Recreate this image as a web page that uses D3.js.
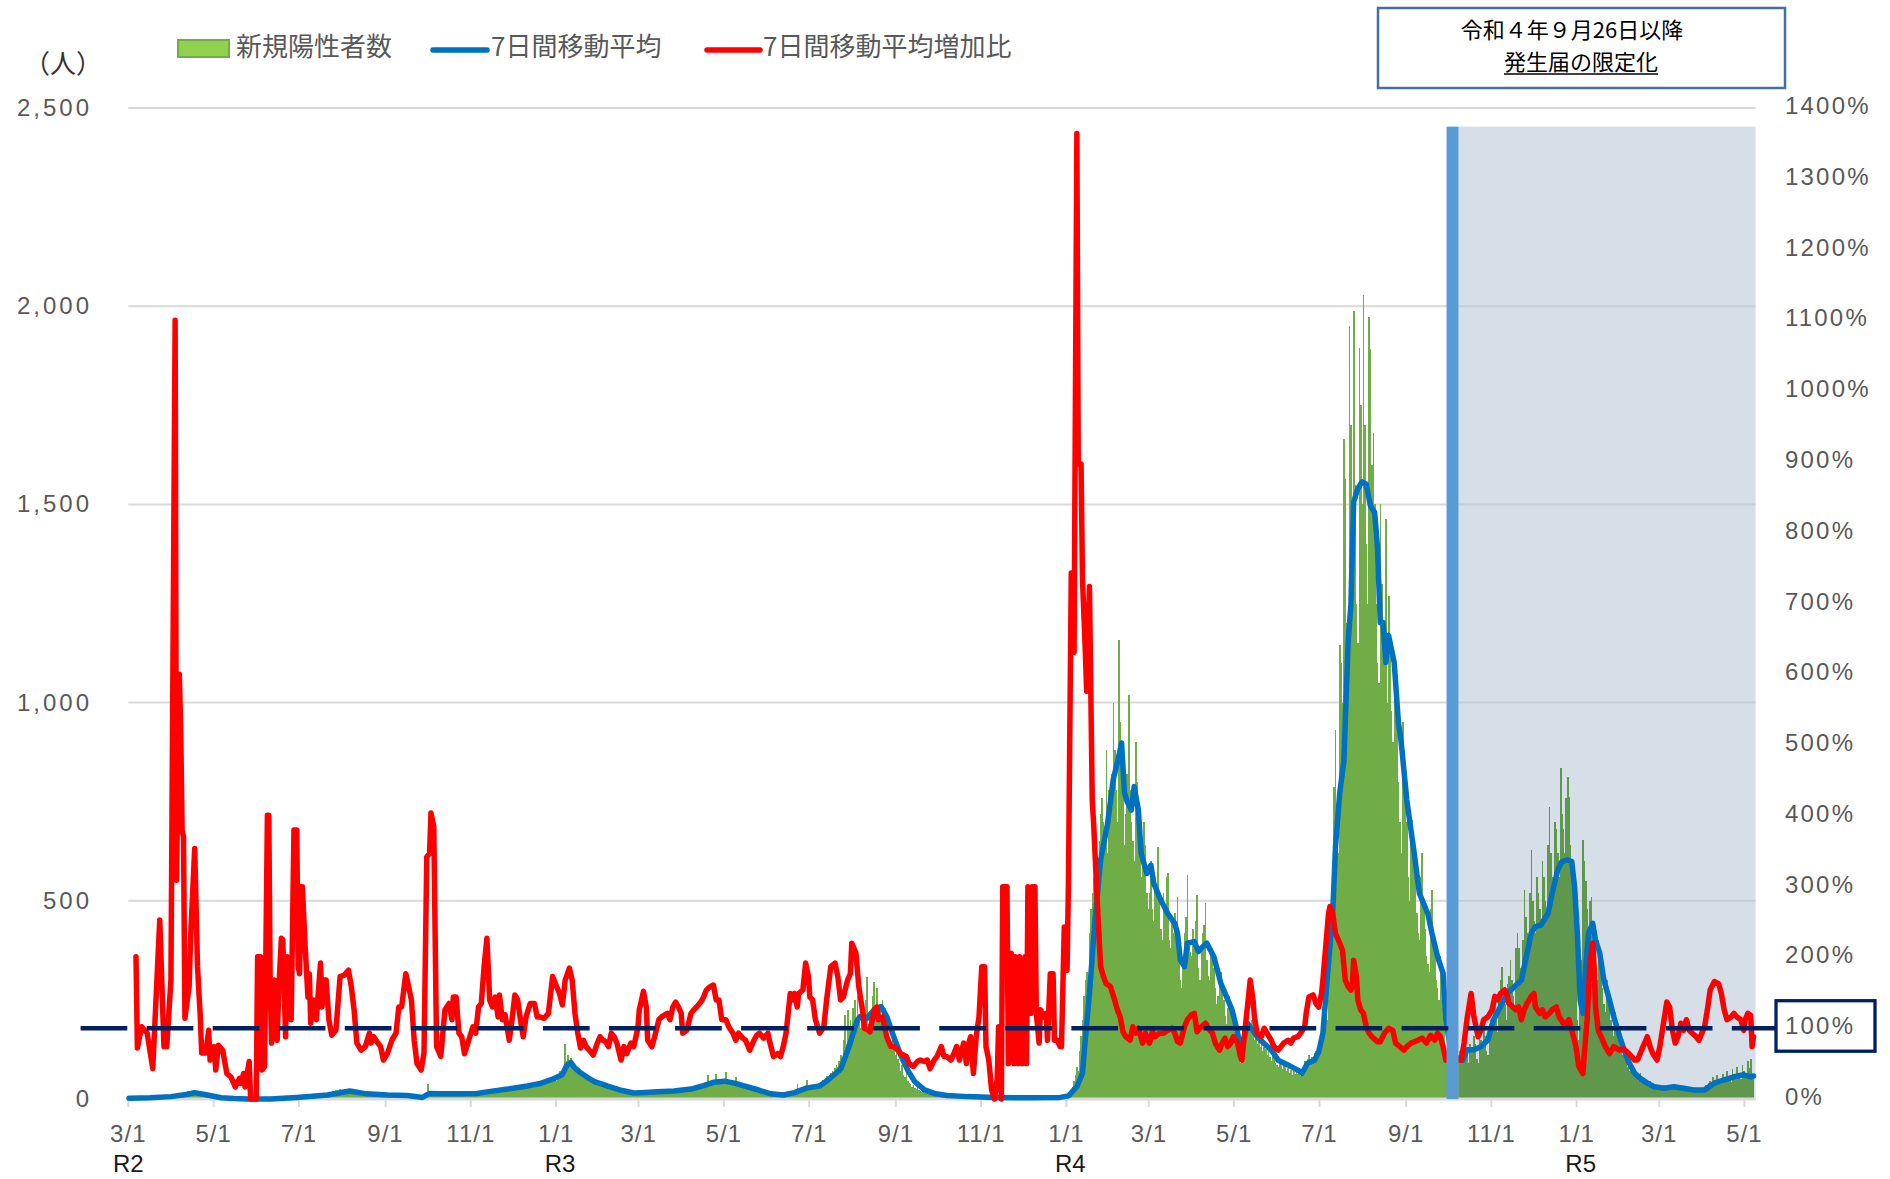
<!DOCTYPE html>
<html><head><meta charset="utf-8">
<script src="https://cdn.jsdelivr.net/npm/d3@7"></script>
<style>body{margin:0;background:#fff}svg{display:block}</style>
</head><body>
<svg id="chart" width="1890" height="1179"></svg>
<script>
// ---------------- DATA ----------------
const startDate = "2020-03-01";
// daily new positive cases, one value per day from 2020-03-01 to 2023-05-07
const dailyCases = [
// 2020 Mar
0,1,0,2,3,1,0, 2,4,3,1,5,2,1, 3,2,4,6,3,2,1, 4,3,5,2,6,4,3, 5,7,4,
// Apr
8,10,6,12,9,14,11, 13,16,12,18,20,15,14, 19,22,17,21,15,12,10, 11,9,13,8,10,7,9, 8,6,
// May
7,5,6,4,3,5,2, 3,2,1,2,0,1,0, 1,0,0,1,0,0,0, 0,0,1,0,0,0,0, 0,0,0,
// Jun
0,0,1,0,0,0,0, 1,0,0,2,1,0,0, 1,2,0,3,1,2,4, 3,2,5,4,3,6,5, 4,7,
// Jul
6,8,5,9,10,8,7, 11,9,12,10,8,13,9, 12,14,10,15,11,13,16, 14,18,15,20,17,22,19, 21,24,20,
// Aug
23,26,19,22,25,18,20, 17,21,15,18,14,16,12, 15,11,14,13,10,12,9, 11,13,10,9,12,8,10, 11,9,10,
// Sep
10,12,9,11,8,10,9, 8,10,7,9,6,8,7, 6,8,5,7,4,6,5, 4,5,3,4,2,3,4, 3,5,
// Oct
39,12,10,14,13,11,15, 12,14,10,13,15,11,12, 14,13,16,12,15,13,11, 14,12,15,13,16,14,12, 15,13,14,
// Nov
13,15,12,16,14,17,15, 18,16,20,17,21,19,18, 22,20,24,21,23,25,22, 26,24,28,25,29,27,26, 30,28,
// Dec
27,31,29,33,30,34,32, 35,33,37,34,38,36,35, 39,37,41,38,42,40,44, 43,47,45,50,48,53,51, 56,58,55,
// 2021 Jan
45,62,70,58,66,72,140, 95,110,88,104,92,85,70, 78,66,72,60,68,58,52, 60,50,56,44,52,46,40, 48,42,38,
// Feb
40,36,32,38,30,34,28, 30,26,28,22,26,20,24, 22,18,20,16,19,14,17, 15,12,14,16,11,13,15,
// Mar
14,16,13,17,15,18,16, 17,15,19,16,18,20,17, 19,16,18,21,17,20,18, 22,19,21,18,23,20,22, 24,21,23,
// Apr
20,25,22,26,23,27,24, 29,26,31,28,33,30,35, 38,34,40,36,60,39,44, 41,46,43,62,42,47,44, 40,45,
// May
46,68,42,40,36,38,40, 34,55,36,30,35,32,28, 34,30,26,29,24,27,22, 25,20,22,18,21,16,19, 15,17,13,
// Jun
14,12,10,13,9,11,8, 10,9,12,8,11,10,13, 12,15,14,17,16,19,18, 39,20,25,30,28,34,32, 48,30,
// Jul
30,26,33,28,35,31,40, 38,44,48,42,52,58,54, 60,66,70,62,78,85,80, 96,110,98,150,212,140,224, 180,200,170,
// Aug
230,250,190,260,210,180,200, 230,200,250,308,190,220,170, 260,296,230,279,200,240,210, 250,190,230,180,160,150,140, 170,130,110,
// Sep
120,100,90,70,85,60,55, 65,45,40,38,30,35,28, 25,30,22,20,18,22,16, 15,18,12,14,10,13,9, 11,8,
// Oct
12,10,9,8,10,7,9, 8,7,6,8,7,6,5, 6,7,5,6,4,5,6, 4,5,6,3,5,4,6, 5,4,3,
// Nov
3,4,2,5,3,4,3, 2,4,3,2,5,3,4, 2,3,4,2,3,5,3, 4,2,3,4,2,3,5, 4,3,
// Dec
3,4,2,3,5,2,3, 4,2,3,4,2,3,4, 2,3,2,4,3,2,3, 4,2,3,5,4,3,6, 5,8,10,
// 2022 Jan
8,5,10,18,30,45,60, 80,70,120,160,200,260,300, 320,280,420,480,520,560,600, 540,500,650,720,760,700,640, 881,620,780,
// Feb
760,820,1000,880,780,700,1158, 950,870,760,640,720,820,1020, 780,700,650,600,900,800,700, 620,560,600,700,640,520,480,
// Mar
520,600,480,450,560,520,636, 500,430,400,520,480,560,569, 400,380,460,420,470,400,510, 360,300,280,330,420,460,565, 400,370,360,
// Apr
430,380,450,515,330,300,380, 420,440,494,350,310,300,360, 380,330,280,240,260,300,320, 270,250,210,190,230,260,240, 200,180,
// May
170,150,120,100,90,110,160, 200,230,216,190,170,200,180, 150,160,140,150,130,145,120, 130,125,110,120,105,95,110, 100,90,85,
// Jun
80,95,88,75,90,82,70, 78,65,72,60,70,62,68, 64,60,58,70,80,95,90, 100,110,96,105,90,115,120, 130,140,
// Jul
130,160,180,220,270,200,350, 420,500,560,786,932,700,620, 1146,1100,1000,1665,1563,1200,1050, 1951,1700,1500,1989,1550,1250,1150, 1895,1750,1500,
// Aug
2028,1700,1400,1250,1972,1891,1600, 1681,1500,1250,1100,1050,1500,1300, 1150,1200,1462,1000,1270,1150,980, 900,1100,1000,1050,800,700,620, 950,880,820,
// Sep
700,560,500,650,704,600,560, 470,420,400,560,620,480,430, 360,340,320,480,528,420,380, 300,280,250,360,330,260,200, 120,150,
// Oct
90,100,80,110,95,70,60, 100,120,105,95,130,150,110, 90,140,130,120,160,140,100, 90,170,150,130,180,160,120, 110,190,200,
// Nov
180,220,250,200,170,260,300, 334,280,240,200,290,310,351, 300,260,230,380,420,380,330, 300,400,527,460,420,380,520, 628,500,
// Dec
450,420,560,520,480,440,600, 560,500,460,640,737,620,560, 520,700,680,620,560,836,720, 680,620,760,813,763,640,560, 520,480,380,
// 2023 Jan
200,150,300,350,653,600,550, 480,420,500,510,450,380,340, 300,400,380,320,280,240,220, 300,280,240,200,180,160,220, 200,170,140,
// Feb
120,110,140,100,90,80,70, 100,80,70,60,55,50,45, 65,55,50,42,40,36,32, 45,38,34,30,28,26,24,
// Mar
30,28,25,35,32,28,24, 30,26,24,33,30,26,22, 28,25,22,30,27,24,20, 26,23,20,28,25,22,19, 24,21,20,
// Apr
25,30,35,28,40,45,38, 55,48,42,60,50,44,38, 62,55,48,70,58,50,44, 75,62,54,80,66,58,50, 85,70,
// May
60,52,95,78,100,62,55
];

// 7-day moving average: [days since startDate, persons]
const movingAvgPoints = [
[0,2],[15,3],[30,6],[42,12],[47,16],[56,10],[66,3],[75,1],[85,0],[101,0],[120,4],[142,10],[158,20],[170,13],[185,10],[199,9],[210,4],[215,14],[223,13],[237,13],[249,14],[256,18],[271,25],[285,33],[294,39],[303,50],[310,62],[313,84],[316,92],[319,78],[323,66],[328,54],[333,44],[342,33],[352,22],[361,15],[366,16],[378,18],[390,20],[402,25],[411,34],[418,42],[426,45],[433,40],[440,33],[449,24],[459,13],[468,10],[476,16],[485,28],[494,33],[500,48],[509,75],[515,132],[521,199],[523,208],[528,204],[533,225],[538,233],[542,208],[547,157],[552,111],[557,73],[562,44],[569,23],[576,14],[585,9],[600,6],[619,4],[643,3],[666,4],[672,8],[678,31],[682,65],[684,149],[687,267],[691,452],[695,603],[700,695],[704,805],[708,865],[710,898],[712,774],[714,750],[717,729],[719,788],[722,729],[724,620],[728,569],[731,590],[733,544],[738,502],[743,468],[748,443],[750,418],[752,351],[755,334],[757,393],[762,397],[765,372],[768,384],[771,393],[776,359],[781,292],[786,250],[789,225],[792,182],[795,132],[798,157],[800,191],[802,182],[807,157],[812,140],[817,124],[822,98],[829,86],[836,73],[839,65],[843,90],[848,98],[851,119],[854,166],[857,300],[861,468],[863,636],[866,771],[869,853],[872,1150],[874,1247],[876,1506],[879,1540],[882,1557],[885,1551],[888,1496],[891,1480],[893,1394],[895,1202],[897,1202],[899,1101],[901,1169],[905,1101],[908,950],[910,900],[914,754],[919,628],[923,519],[929,468],[932,418],[936,359],[940,317],[942,199],[946,110],[954,98],[957,124],[962,124],[967,132],[972,149],[976,199],[981,233],[986,267],[991,283],[996,300],[999,351],[1003,418],[1006,435],[1010,439],[1015,468],[1018,519],[1022,578],[1025,599],[1029,603],[1032,599],[1034,536],[1036,418],[1038,250],[1040,216],[1042,334],[1044,418],[1047,443],[1049,401],[1052,368],[1055,300],[1059,250],[1062,208],[1067,149],[1072,98],[1077,65],[1081,52],[1086,40],[1091,31],[1098,27],[1105,31],[1112,27],[1119,23],[1127,23],[1134,40],[1141,48],[1148,56],[1155,61],[1160,56],[1162,58]
];

// 7-day moving average increase ratio (%): [days since startDate, percent]
const ratioPoints = [
[5,201],[6,72],[9,102],[13,93],[17,43],[22,253],[25,74],[27,74],[30,168],[33,1100],[34,309],[36,600],[37,520],[38,380],[39,370],[40,114],[43,159],[44,225],[47,354],[49,187],[51,116],[52,65],[55,65],[57,97],[58,55],[61,74],[62,41],[64,76],[67,69],[70,36],[73,31],[76,17],[79,29],[80,22],[82,36],[83,17],[86,53],[87,0],[91,0],[92,201],[94,201],[95,41],[97,46],[99,401],[100,401],[101,159],[102,79],[104,168],[106,83],[107,149],[109,227],[110,225],[112,88],[113,201],[114,187],[116,112],[118,380],[120,380],[121,187],[122,177],[123,300],[124,300],[126,215],[128,144],[129,177],[130,107],[132,140],[134,112],[135,140],[137,192],[138,130],[140,168],[141,168],[143,112],[145,90],[148,97],[151,173],[154,175],[157,182],[159,159],[161,126],[163,79],[166,69],[169,74],[172,93],[173,79],[175,88],[178,79],[180,74],[182,55],[185,65],[188,83],[191,93],[193,130],[195,130],[198,177],[200,159],[202,140],[204,83],[206,50],[209,41],[211,65],[213,342],[215,347],[216,404],[218,385],[220,74],[222,65],
[223,60],[226,126],[229,135],[231,112],[232,144],[234,144],[236,93],[238,88],[240,64],[243,83],[246,102],[248,93],[250,130],[252,135],[254,187],[256,227],[258,140],[260,130],[262,144],[264,116],[265,147],[267,112],[269,119],[272,83],[274,112],[276,147],[278,140],[280,112],[282,88],[284,116],[287,135],[290,135],[292,116],[294,116],[297,114],[300,121],[303,173],[305,163],[308,149],[310,133],[312,168],[315,185],[317,168],[319,121],[321,93],[323,72],[325,83],[327,74],[330,67],[332,62],[335,79],[337,88],[339,83],[341,81],[343,74],[345,93],[347,88],[349,79],[352,55],[354,74],[356,64],[359,79],[361,74],[364,100],[365,126],[368,152],[370,130],[371,83],[374,74],[376,88],[379,112],[381,116],[385,121],[387,112],[389,130],[391,137],[393,130],[395,121],[396,93],[399,97],[402,121],[404,126],[406,130],[409,137],[411,144],[413,154],[416,159],[418,161],[420,140],[422,140],[424,112],[427,112],[429,102],[432,93],[434,83],[436,93],[439,86],[441,83],[444,69],[447,83],[449,90],[451,93],[454,86],[457,93],
[458,83],[461,60],[464,64],[466,60],[468,74],[470,93],[473,149],[475,140],[476,149],[478,130],[479,149],[482,154],[484,192],[486,173],[487,144],[489,140],[491,112],[494,93],[497,102],[499,140],[502,187],[505,192],[507,173],[509,140],[511,144],[514,168],[516,177],[517,220],[520,206],[522,159],[525,121],[526,100],[529,97],[530,95],[533,126],[535,130],[536,112],[539,116],[542,88],[545,74],[547,74],[550,69],[552,64],[556,60],[558,50],[561,46],[564,53],[566,55],[569,53],[571,55],[573,43],[576,55],[578,60],[581,74],[583,60],[585,60],[588,55],[590,64],[592,74],[594,55],[595,64],[597,79],[599,50],[600,74],[602,88],[604,36],[606,88],[608,116],[610,187],[612,187],[613,74],[615,55],[617,13],[619,0],[621,27],[622,102],[624,0],[625,300],[628,300],[629,50],[631,206],[633,50],[634,201],[636,50],[637,201],[639,50],[641,201],[642,50],[643,300],[645,121],[646,300],[648,300],[649,121],[651,79],[652,126],[654,116],[656,121],[657,83],[659,177],[661,177],[662,83],[664,83],[666,74],[667,74],[669,243],[670,243],[671,182],[672,309],
[674,743],[676,631],[678,1364],[679,897],[681,897],[682,736],[684,636],[685,576],[687,724],[689,422],
[690,389],[693,262],[695,187],[697,173],[699,163],[702,159],[705,140],[707,126],[709,116],[711,95],[713,88],[716,83],[718,102],[720,93],[722,100],[725,79],[727,93],[730,79],[732,95],[734,88],[737,93],[740,93],[743,97],[746,100],[748,93],[750,81],[752,79],[755,102],[757,112],[760,119],[762,121],[764,95],[767,102],[770,107],[772,100],[775,93],[777,79],[780,69],[782,79],[784,86],[786,74],[788,79],[790,88],[793,79],[795,60],[796,55],[798,93],[800,130],[802,168],[804,140],[805,116],[807,93],[810,88],[812,100],[814,93],[817,83],[819,74],[822,69],[824,74],[826,79],[829,83],[831,79],[833,86],[836,88],[838,93],[841,102],[842,121],[844,144],[847,147],[849,135],[851,130],[853,149],[854,168],[856,215],[858,262],[859,272],[861,262],[863,234],[866,220],[868,210],[870,168],[872,159],[874,154],[875,159],[876,196],[878,173],[879,140],[881,126],[883,121],[885,102],[887,93],[889,88],[893,81],[895,81],[898,93],[901,100],[904,97],[906,79],[909,74],[912,69],[914,74],
[917,79],[922,83],[925,86],[928,79],[931,90],[934,83],[936,93],[938,88],[940,74],[942,55],[953,55],[955,79],[957,112],[960,149],[962,116],[965,88],[967,97],[969,112],[972,116],[975,126],[977,145],[979,140],[981,149],[984,154],[986,145],[987,135],[990,130],[992,126],[994,130],[996,112],[998,126],[1000,135],[1003,145],[1005,149],[1006,130],[1009,121],[1011,126],[1013,116],[1016,121],[1018,126],[1021,130],[1023,116],[1027,104],[1030,112],[1032,97],[1035,74],[1037,46],[1040,36],[1041,64],[1043,112],[1045,192],[1047,220],[1048,187],[1049,130],[1051,97],[1053,88],[1056,74],[1059,64],[1062,74],[1066,69],[1069,71],[1073,64],[1077,55],[1079,55],[1083,74],[1086,88],[1088,74],[1090,64],[1093,55],[1095,74],[1098,112],[1100,137],[1102,130],[1104,97],[1106,79],[1108,88],[1110,107],[1112,97],[1114,112],[1116,97],[1118,93],[1121,88],[1123,83],[1125,93],[1127,102],[1129,126],[1131,154],[1134,166],[1137,163],[1139,149],[1141,126],[1143,112],[1146,116],[1148,121],[1150,116],[1153,112],[1155,97],[1156,112],[1158,121],[1160,118],[1161,74],[1162,88]
];

const leftTicks = [0, 500, 1000, 1500, 2000, 2500];
const rightTicks = [0, 100, 200, 300, 400, 500, 600, 700, 800, 900, 1000, 1100, 1200, 1300, 1400];
const monthTicks = ["2020-03-01","2020-05-01","2020-07-01","2020-09-01","2020-11-01","2021-01-01","2021-03-01","2021-05-01","2021-07-01","2021-09-01","2021-11-01","2022-01-01","2022-03-01","2022-05-01","2022-07-01","2022-09-01","2022-11-01","2023-01-01","2023-03-01","2023-05-01"];
const eraLabels = ["R2","R3","R4","R5"];
const eraDates = ["2020-03-01","2021-01-01","2022-01-01","2023-01-01"];
const legendLabels = ["新規陽性者数","7日間移動平均","7日間移動平均増加比"];
const unitLabel = "（人）";
const noticeDate = "2022-09-26";
const noticeLines = ["令和４年９月26日以降","発生届の限定化"];
const referenceRatio = 100;
const axisEndDay = 1164;

// ---------------- CHART ----------------
const svg = d3.select("#chart");
const parse = d3.utcParse("%Y-%m-%d");
const t0 = parse(startDate);
const dayDate = i => d3.utcDay.offset(t0, i);
const X0 = 128.3, X1 = 1755.6, YB = 1099, YT = 108;
const x = d3.scaleUtc().domain([t0, dayDate(axisEndDay)]).range([X0, X1]);
const yL = d3.scaleLinear().domain([0, 2500]).range([YB, YT]);
const yR = d3.scaleLinear().domain([0, 1400]).range([YB, YT]);
const dayW = x(dayDate(1)) - x(dayDate(0));
const numFont = "'Liberation Sans', Arial, sans-serif";
const jpFont = "'Noto Sans CJK JP', 'Noto Sans', sans-serif";

// gridlines
svg.append("g").selectAll("line").data(leftTicks.slice(1)).join("line")
  .attr("x1", X0).attr("x2", X1).attr("y1", d => yL(d)).attr("y2", d => yL(d))
  .attr("stroke", "#d9d9d9").attr("stroke-width", 2);

// shaded period after notice change
const nx = x(parse(noticeDate));
const bandX0 = nx + 5.5, bandX1 = bandX0 + 12;
svg.append("rect").attr("x", bandX1).attr("y", yL(2453)).attr("width", X1 - bandX1)
  .attr("height", YB - yL(2453)).attr("fill", "#b4c3d4").attr("opacity", 0.55);

// bars
svg.append("g").attr("shape-rendering", "crispEdges").selectAll("rect").data(dailyCases).join("rect")
  .attr("x", (v, i) => x(dayDate(i)))
  .attr("width", dayW + 0.25)
  .attr("y", v => yL(v))
  .attr("height", v => YB - yL(v))
  .attr("fill", (v, i) => x(dayDate(i)) >= bandX1 ? "#5f984d" : "#70ad47");

// baseline + ticks
svg.append("line").attr("x1", X0).attr("x2", X1).attr("y1", YB).attr("y2", YB)
  .attr("stroke", "#d9d9d9").attr("stroke-width", 3);
const tickDates = monthTicks.map(parse);
svg.append("g").selectAll("line").data(tickDates).join("line")
  .attr("x1", d => x(d)).attr("x2", d => x(d)).attr("y1", YB).attr("y2", YB + 8)
  .attr("stroke", "#d9d9d9").attr("stroke-width", 2);
svg.append("g").selectAll("text").data(tickDates).join("text")
  .attr("x", d => x(d)).attr("y", 1142).attr("text-anchor", "middle")
  .attr("font-family", numFont).attr("font-size", 24).attr("fill", "#595959")
  .attr("letter-spacing", 1)
  .text(d => d3.utcFormat("%-m/%-d")(d));
svg.append("g").selectAll("text").data(eraLabels).join("text")
  .attr("x", (d, i) => x(parse(eraDates[i])) + (i === 0 ? 0 : 4)).attr("y", 1172).attr("text-anchor", "middle")
  .attr("font-family", numFont).attr("font-size", 24).attr("fill", "#1a1a1a")
  .text(d => d);

// lines
const lineL = d3.line().x(p => x(dayDate(p[0])) + dayW / 2).y(p => yL(p[1]));
const lineR = d3.line().x(p => x(dayDate(p[0])) + dayW / 2).y(p => yR(p[1]));
svg.append("path").attr("d", lineL(movingAvgPoints)).attr("fill", "none")
  .attr("stroke", "#0070c0").attr("stroke-width", 5.5).attr("stroke-linejoin", "round").attr("stroke-linecap", "round");
svg.append("path").attr("d", lineR(ratioPoints)).attr("fill", "none")
  .attr("stroke", "#ff0000").attr("stroke-width", 5.5).attr("stroke-linejoin", "round").attr("stroke-linecap", "round");

// vertical notice bar
svg.append("rect").attr("x", bandX0).attr("y", yL(2453)).attr("width", bandX1 - bandX0)
  .attr("height", YB - yL(2453)).attr("fill", "#5b9bd5");

// 100% dashed reference line
const yRef = yR(referenceRatio);
svg.append("line").attr("x1", 80.6).attr("x2", 1777).attr("y1", yRef).attr("y2", yRef)
  .attr("stroke", "#002060").attr("stroke-width", 4.5).attr("stroke-dasharray", "46.7 19.35");
svg.append("rect").attr("x", 1776).attr("y", yRef - 27.5).attr("width", 99).attr("height", 50.5)
  .attr("fill", "#fff").attr("stroke", "#002060").attr("stroke-width", 3.3);

// left axis labels
svg.append("g").selectAll("text").data(leftTicks).join("text")
  .attr("x", 92).attr("y", d => yL(d) + 8).attr("text-anchor", "end")
  .attr("font-family", numFont).attr("font-size", 24).attr("fill", "#595959")
  .attr("letter-spacing", 3)
  .text(d => d3.format(",")(d));
// right axis labels
svg.append("g").selectAll("text").data(rightTicks).join("text")
  .attr("x", 1785).attr("y", d => yR(d) + 6)
  .attr("font-family", numFont).attr("font-size", 24).attr("fill", "#595959")
  .attr("letter-spacing", 2.2)
  .text(d => d + "%");

// unit label
svg.append("text").attr("x", 24).attr("y", 73).attr("font-family", jpFont)
  .attr("font-size", 26).attr("fill", "#333").text(unitLabel);

// legend
const lg = svg.append("g").attr("font-family", jpFont).attr("font-size", 26).attr("fill", "#595959");
lg.append("rect").attr("x", 178).attr("y", 40).attr("width", 51).attr("height", 17)
  .attr("fill", "#92d050").attr("stroke", "#70ad47").attr("stroke-width", 2);
lg.append("text").attr("x", 236).attr("y", 56).text(legendLabels[0]);
lg.append("line").attr("x1", 433).attr("x2", 487).attr("y1", 50).attr("y2", 50)
  .attr("stroke", "#0070c0").attr("stroke-width", 5.5).attr("stroke-linecap", "round");
lg.append("text").attr("x", 491).attr("y", 56).text(legendLabels[1]);
lg.append("line").attr("x1", 707).attr("x2", 760).attr("y1", 50).attr("y2", 50)
  .attr("stroke", "#ff0000").attr("stroke-width", 5.5).attr("stroke-linecap", "round");
lg.append("text").attr("x", 763).attr("y", 56).text(legendLabels[2]);

// notice box
svg.append("rect").attr("x", 1378).attr("y", 8).attr("width", 407).attr("height", 80)
  .attr("fill", "#fff").attr("stroke", "#41719c").attr("stroke-width", 2.5);
svg.append("text").attr("x", 1572).attr("y", 38).attr("text-anchor", "middle")
  .attr("font-family", jpFont).attr("font-size", 22).attr("fill", "#000").text(noticeLines[0]);
const t2 = svg.append("text").attr("x", 1581).attr("y", 70).attr("text-anchor", "middle")
  .attr("font-family", jpFont).attr("font-size", 22).attr("fill", "#000").text(noticeLines[1]);
const w2 = t2.node().getComputedTextLength();
svg.append("line").attr("x1", 1581 - w2 / 2).attr("x2", 1581 + w2 / 2).attr("y1", 74).attr("y2", 74)
  .attr("stroke", "#000").attr("stroke-width", 1.5);
</script>
</body></html>
